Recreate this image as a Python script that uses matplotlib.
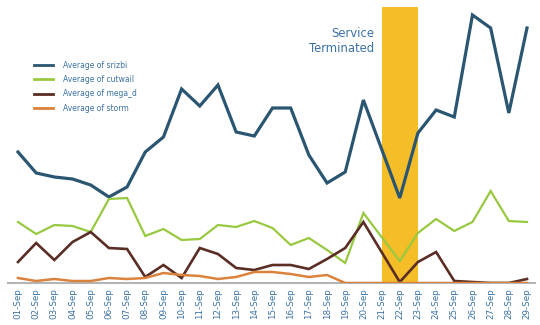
import matplotlib
matplotlib.use("Agg")
import matplotlib.pyplot as plt
from matplotlib.lines import Line2D

dates = [f"{d:02d}-Sep" for d in range(1, 30)]
srizbi = [131, 110, 106, 104, 98, 86, 96, 131, 146, 194, 177, 198, 151, 147, 175,
          175, 128, 100, 111, 183, 134, 85, 150, 173, 166, 268, 255, 170, 255]
cutwail = [61, 49, 58, 57, 51, 84, 85, 47, 54, 43, 44, 58, 56, 62, 55,
           38, 45, 33, 20, 70, 46, 22, 50, 64, 52, 61, 92, 62, 61]
mega_d = [21, 40, 23, 41, 51, 35, 34, 6, 18, 5, 35, 29, 15, 13, 18,
          18, 14, 24, 35, 61, 31, 1, 21, 31, 2, 1, 0, 0, 4]
storm = [5, 2, 4, 2, 2, 5, 4, 5, 10, 8, 7, 4, 6, 11, 11,
         9, 6, 8, 0, 0, 0, 0, 0, 0, 0, 0, 0, 0, 0]
series_names = ["Average of srizbi", "Average of cutwail", "Average of mega_d", "Average of storm"]
terminated_start = "21-Sep"
terminated_end = "23-Sep"
annotation = "Service\nTerminated"

colors = ["#2b5671", "#98c940", "#5a2d25", "#db833d"]
bar_color = "#f5bd27"
text_color = "#3b72a6"

fig = plt.figure(figsize=(5.4, 3.25), dpi=100)
W, H = 540, 325
left_px, right_px, base_px, top_px = 8, 535, 283, 7
ax = fig.add_axes([left_px / W, (H - base_px) / H, (right_px - left_px) / W, (base_px - top_px) / H])

x = list(range(len(dates)))
i0 = dates.index(terminated_start)
i1 = dates.index(terminated_end)
ax.axvspan(i0, i1, color=bar_color, zorder=1, lw=0)

data = [srizbi, cutwail, mega_d, storm]
widths = [2.3, 1.6, 1.9, 1.8]
for vals, c, lw, name in zip(data, colors, widths, series_names):
    ax.plot(x, vals, color=c, lw=lw, zorder=3, solid_joinstyle="miter", label=name)

ax.set_xlim(-0.55, len(dates) - 1 + 0.44)
ax.set_ylim(0, base_px - top_px)

for s in ["top", "right", "left"]:
    ax.spines[s].set_visible(False)
ax.spines["bottom"].set_color("#b5b5b5")
ax.spines["bottom"].set_linewidth(1.5)
ax.set_yticks([])
ax.set_xticks(x)
ax.set_xticklabels(dates, rotation=90, fontsize=6.3, color=text_color)
ax.tick_params(axis="x", length=0, pad=4)

ax.text(i0 - 0.4, 242, annotation, ha="right", va="center", fontsize=8.4,
        color=text_color, linespacing=1.15, zorder=4)

handles = [Line2D([0], [0], color=c, lw=2) for c in colors]
fig.legend(handles, series_names, loc="upper left", bbox_to_anchor=(27 / W, 1 - 54 / H),
           frameon=False, fontsize=5.5, labelcolor=text_color, handlelength=2.5,
           handletextpad=1.3, labelspacing=0.69)

fig.savefig("out.png", dpi=100)
